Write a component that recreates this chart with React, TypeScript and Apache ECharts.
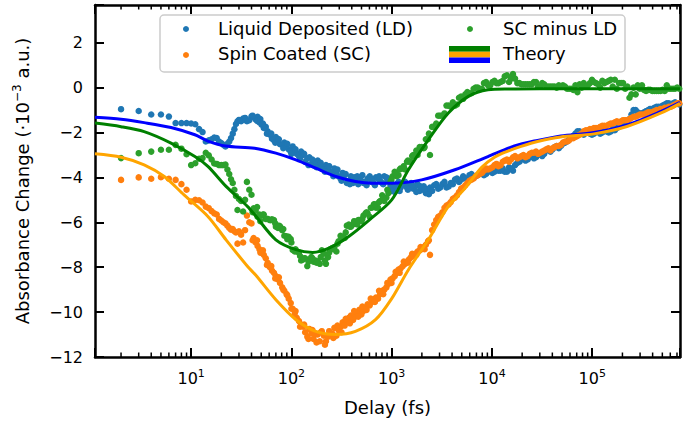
import React, { useEffect, useRef } from "react";
import * as echarts from "echarts";

// Delay grid (fs)
const delays = [
  2, 3, 4, 5, 6, 7, 8, 9, 10, 11, 12, 13, 14, 15, 16, 17, 18, 19, 20, 21, 22, 23, 24, 25, 26, 27, 28, 29, 30,
  33, 36, 40, 44, 48, 53, 58, 64, 70, 77,
  85, 94, 103, 113, 125, 137, 151, 166, 183, 201,
  221, 243, 268, 295, 324, 357, 392, 432, 475, 523,
  575, 633, 696, 766, 843, 927, 1020, 1120, 1230, 1360,
  1490, 1640, 1810, 1990, 2190, 2410, 2650, 2910, 3200, 3520,
  3880, 4270, 4690, 5160, 5680, 6250, 6880, 7560, 8320, 9150,
  10100, 11100, 12200, 13400, 14800, 16200, 17900, 19700, 21600, 23800,
  26200, 28800, 31700, 34800, 38300, 42100, 46400, 51000, 56100, 61700,
  67900, 74700, 82200, 90400, 99400, 109000, 120000, 132000, 146000, 160000,
  176000, 194000, 213000, 235000, 258000, 284000, 313000, 344000, 378000, 416000,
  458000, 503000, 554000, 609000, 670000, 737000,
];

// Liquid Deposited (LD)
const ldValues = [
  -0.96, -1.04, -1.2, -1.2, -1.29, -1.58, -1.58, -1.58, -1.6, -1.63, -1.85, -1.98, -2.4, -2.35, -2.3, -2.22, -2.25, -2.4, -2.47, -2.55, -2.62, -2.5, -2.4, -2.25, -2.05, -1.85, -1.62, -1.5, -1.44,
  -1.38, -1.5, -1.28, -1.42, -1.55, -1.8, -1.95, -2.28, -2.2, -2.52,
  -2.45, -2.75, -2.62, -2.95, -2.85, -3.3, -3.1, -3.45, -3.25, -3.6,
  -3.45, -3.75, -3.6, -3.95, -3.8, -4.25, -3.95, -4.15, -4.0, -4.25,
  -4.05, -4.2, -4.0, -4.15, -3.95, -4.05, -4.55, -4.3, -4.45, -4.2,
  -4.35, -4.5, -4.3, -4.55, -4.7, -4.45, -4.35, -4.5, -4.3, -4.45,
  -4.25, -4.1, -4.2, -3.95, -4.05, -3.85, -3.95, -3.8, -3.9, -3.75,
  -3.8, -3.6, -3.7, -3.75, -3.55, -3.7, -3.35, -3.2, -3.25, -3.1,
  -3.15, -3.0, -3.05, -2.8, -2.85, -2.65, -2.7, -2.5, -2.4, -2.25,
  -2.05, -1.95, -2.1, -2.0, -2.1, -1.95, -2.05, -1.9, -2.0, -1.85,
  -1.8, -1.7, -1.55, -1.4, -1.0, -1.1, -1.15, -1.05, -0.95, -0.9,
  -0.85, -0.8, -0.7, -0.75, -0.65, -0.75,
];

// Spin Coated (SC)
const scValues = [
  -4.11, -4.0, -4.06, -3.99, -4.06, -4.11, -4.3, -4.55, -5.07, -5.0, -5.02, -5.12, -5.3, -5.37, -5.5, -5.6, -5.65, -5.85, -5.92, -6.0, -6.05, -6.15, -6.25, -6.33, -6.3, -6.4, -6.45, -6.95, -6.4,
  -6.9, -5.7, -6.05, -6.9, -7.2, -7.45, -7.8, -8.15, -8.4, -8.7,
  -9.05, -9.4, -9.85, -10.25, -10.55, -10.9, -10.75, -11.2, -11.0, -10.85,
  -11.3, -10.95, -10.7, -10.8, -10.45, -10.4, -10.15, -10.2, -9.9, -9.95,
  -9.65, -9.55, -9.35, -9.2, -9.0, -8.75, -8.5, -8.25, -8.05, -7.85,
  -7.65, -7.5, -7.3, -7.2, -7.0, -7.45, -6.1, -5.75, -5.55, -5.25,
  -5.1, -4.9, -4.65, -4.45, -4.25, -4.1, -3.95, -3.85, -3.7, -3.65,
  -3.55, -3.4, -3.45, -3.25, -3.3, -3.1, -3.15, -3.05, -3.1, -2.95,
  -2.9, -2.95, -2.85, -2.75, -2.8, -2.65, -2.6, -2.45, -2.4, -2.25,
  -2.2, -2.1, -1.95, -1.9, -1.85, -1.8, -1.75, -1.7, -1.65, -1.6,
  -1.5, -1.5, -1.45, -1.4, -1.3, -1.25, -1.2, -1.15, -1.1, -1.05,
  -1.0, -0.95, -0.9, -0.85, -0.75, -0.7,
];

// SC minus LD
const diffValues = [
  -3.14, -2.92, -2.85, -2.77, -2.77, -2.55, -2.72, -2.97, -3.45, -3.37, -3.17, -3.14, -2.9, -3.02, -3.2, -3.38, -3.4, -3.45, -3.45, -3.45, -3.43, -3.65, -3.85, -4.08, -4.25, -4.55, -4.83, -5.45, -4.96,
  -5.52, -4.2, -4.77, -5.48, -5.65, -5.65, -5.85, -5.87, -6.2, -6.18,
  -6.6, -6.65, -7.23, -7.3, -7.7, -7.6, -7.65, -7.75, -7.75, -7.25,
  -7.85, -7.2, -7.1, -6.85, -6.65, -6.15, -6.2, -6.05, -5.9, -5.7,
  -5.6, -5.35, -5.35, -5.05, -5.05, -4.7, -3.95, -3.95, -3.6, -3.65,
  -3.3, -3.0, -3.0, -2.65, -2.3, -3.0, -1.75, -1.25, -1.25, -0.8,
  -0.85, -0.8, -0.45, -0.5, -0.2, -0.25, 0.0, -0.05, 0.2, 0.1,
  0.25, 0.2, 0.25, 0.5, 0.25, 0.6, 0.2, 0.15, 0.15, 0.15,
  0.25, 0.05, 0.2, 0.05, 0.05, 0.05, 0.1, 0.1, -0.05, -0.05,
  0.1, 0.15, 0.2, 0.1, 0.35, 0.2, 0.0, 0.2, 0.3, 0.05,
  -0.05, 0.2, -0.05, -0.45, 0.0, 0.1, 0.1, -0.15, -0.1, -0.15,
  -0.15, -0.1, 0.1, -0.05, -0.05, -0.05,
];

// Interleaved delays (fs) of the dense part
const delaysMid = [
  31.5, 34.5, 38, 42, 46, 50.5, 55.5, 61, 67, 73.5,
  81, 89.5, 98.5, 108, 119, 131, 144, 158, 174, 192,
  211, 232, 255, 281, 309, 340, 374, 412, 453, 499,
  549, 604, 664, 731, 804, 885, 973, 1070, 1170, 1290,
  1420, 1560, 1720, 1900, 2090, 2300, 2530, 2780, 3050, 3360,
  3700, 4070, 4480, 4920, 5420, 5960, 6560, 7210, 7930, 8730,
  9610, 10600, 11600, 12800, 14100, 15500, 17000, 18800, 20600, 22700,
  25000, 27500, 30200, 33200, 36500, 40200, 44200, 48700, 53500, 58800,
  64700, 71200, 78400, 86200, 94800, 104000, 115000, 126000, 139000, 153000,
  168000, 185000, 203000, 224000, 246000, 271000, 298000, 328000, 361000, 397000,
  437000, 480000, 528000, 581000, 640000, 703000,
];

const ldMid = [
  -1.5, -1.35, -1.45, -1.32, -1.3, -1.65, -1.75, -2.1, -2.35, -2.3,
  -2.55, -2.58, -2.85, -2.75, -3.05, -3.0, -3.15, -3.4, -3.3, -3.45,
  -3.65, -3.55, -3.8, -3.75, -4.05, -3.9, -4.15, -4.25, -3.95, -4.15,
  -4.2, -3.95, -4.25, -4.05, -4.25, -4.0, -4.35, -4.65, -4.2, -4.35,
  -4.45, -4.25, -4.4, -4.6, -4.4, -4.55, -4.6, -4.3, -4.45, -4.2,
  -4.4, -4.3, -4.05, -4.1, -4.05, -3.9, -4.0, -3.9, -3.75, -3.85,
  -3.7, -3.75, -3.7, -3.6, -3.75, -3.6, -3.45, -3.3, -3.15, -3.2,
  -3.05, -3.1, -2.95, -2.95, -2.75, -2.75, -2.6, -2.6, -2.45, -2.3,
  -2.15, -1.95, -2.05, -1.95, -2.05, -2.05, -1.95, -2.0, -1.95, -1.95,
  -1.9, -1.75, -1.65, -1.5, -1.2, -1.0, -1.15, -1.1, -1.0, -0.95,
  -0.85, -0.85, -0.75, -0.7, -0.7, -0.7,
];

const scMid = [
  -6.55, -6.35, -6.0, -6.7, -7.05, -7.35, -7.6, -8.0, -8.25, -8.55,
  -8.9, -9.2, -9.6, -10.05, -10.4, -10.65, -11.1, -10.95, -11.0, -11.3,
  -11.05, -11.1, -10.95, -11.05, -10.65, -10.6, -10.25, -10.35, -10.05, -10.1,
  -9.8, -9.7, -9.45, -9.4, -9.05, -8.9, -8.55, -8.4, -8.1, -7.95,
  -7.75, -7.55, -7.4, -7.25, -7.1, -6.85, -6.35, -5.9, -5.7, -5.35,
  -5.2, -4.95, -4.8, -4.5, -4.35, -4.15, -4.05, -3.9, -3.8, -3.6,
  -3.6, -3.45, -3.5, -3.3, -3.2, -3.2, -3.05, -3.1, -3.0, -3.05,
  -2.9, -2.85, -2.9, -2.8, -2.7, -2.7, -2.6, -2.55, -2.4, -2.35,
  -2.25, -2.15, -2.05, -1.9, -1.85, -1.8, -1.8, -1.7, -1.7, -1.6,
  -1.55, -1.55, -1.45, -1.45, -1.35, -1.3, -1.2, -1.2, -1.1, -1.1,
  -1.0, -0.95, -0.9, -0.85, -0.8, -0.7,
];

const diffMid = [
  -5.05, -5.0, -4.55, -5.38, -5.75, -5.7, -5.85, -5.9, -5.9, -6.25,
  -6.35, -6.62, -6.75, -7.3, -7.35, -7.65, -7.95, -7.55, -7.7, -7.85,
  -7.4, -7.55, -7.15, -7.3, -6.6, -6.7, -6.1, -6.1, -6.1, -5.95,
  -5.6, -5.75, -5.2, -5.35, -4.8, -4.9, -4.2, -3.75, -3.9, -3.6,
  -3.3, -3.3, -3.0, -2.65, -2.7, -2.3, -1.75, -1.6, -1.25, -1.15,
  -0.8, -0.65, -0.75, -0.4, -0.3, -0.25, -0.05, 0.0, -0.05, 0.25,
  0.1, 0.3, 0.2, 0.3, 0.55, 0.4, 0.4, 0.2, 0.15, 0.15,
  0.15, 0.25, 0.05, 0.15, 0.05, 0.05, 0.0, 0.05, 0.05, -0.05,
  -0.1, -0.2, 0.0, 0.05, 0.2, 0.25, 0.15, 0.3, 0.25, 0.35,
  0.35, 0.2, 0.2, 0.05, -0.3, -0.3, -0.05, -0.1, -0.1, -0.15,
  -0.15, -0.15, -0.15, -0.05, -0.05, 0.0,
];

// Extra delays (fs) where the data are densest
const delaysExtra = [
  41, 45.5, 49, 52, 57, 63, 69, 75, 83, 91,
  100, 110, 122, 134, 148, 162, 178, 196, 216, 238,
  262, 288, 316, 348, 383, 422, 464, 510, 562, 618,
  680, 748, 823, 905, 995, 1095, 1200, 1320, 1450, 1600,
  1760, 1940, 2130, 2350,
];

const ldExtra = [
  -1.25, -1.48, -1.4, -1.6, -2.05, -2.05, -2.45, -2.3, -2.7, -2.5,
  -2.95, -2.75, -3.15, -2.95, -3.45, -3.2, -3.55, -3.35, -3.75, -3.5,
  -3.95, -3.65, -4.15, -3.85, -4.3, -4.0, -4.3, -3.9, -4.35, -4.05,
  -4.35, -3.95, -4.3, -4.15, -4.6, -4.4, -4.6, -4.25, -4.55, -4.35,
  -4.65, -4.4, -4.55, -4.75,
];

const scExtra = [
  -6.8, -6.8, -7.35, -7.25, -7.9, -7.95, -8.5, -8.45, -9.0, -9.25,
  -9.85, -9.95, -10.65, -10.55, -11.2, -10.8, -11.35, -10.9, -11.45, -10.85,
  -11.15, -10.6, -10.9, -10.3, -10.5, -9.95, -10.2, -9.75, -9.9, -9.4,
  -9.55, -9.05, -9.2, -8.7, -8.7, -8.2, -8.25, -7.75, -7.8, -7.4,
  -7.45, -7.1, -7.2, -6.8,
];

const diffExtra = [
  -5.55, -5.32, -5.95, -5.65, -5.85, -5.9, -6.05, -6.15, -6.3, -6.75,
  -6.9, -7.2, -7.5, -7.6, -7.75, -7.6, -7.8, -7.55, -7.7, -7.35,
  -7.2, -6.95, -6.75, -6.45, -6.2, -5.95, -5.9, -5.85, -5.55, -5.35,
  -5.2, -5.1, -4.9, -4.55, -4.1, -3.8, -3.65, -3.5, -3.25, -3.05,
  -2.8, -2.7, -2.65, -2.05,
];

// Theory curves [delay fs, value]
const theoryLD = [
  [1.1, -1.32], [2, -1.41], [3.4, -1.56], [6.3, -1.78], [10.9, -2.1], [14.7, -2.38], [22, -2.6], [43, -2.7],
  [70, -2.92], [111, -3.22], [175, -3.59], [277, -3.96], [435, -4.18], [636, -4.26], [1000, -4.26],
  [1990, -4.11], [4265, -3.66], [9120, -3.07], [16750, -2.6], [28500, -2.35], [48500, -2.15],
  [104000, -2.0], [222000, -1.66], [480000, -1.07], [750000, -0.66],
];
const theorySC = [
  [1.1, -2.95], [2, -3.1], [3.4, -3.44], [5.4, -3.96], [8.5, -4.78], [14.7, -5.74], [22.3, -6.78],
  [36.6, -7.97], [44, -8.35], [70, -9.45], [111, -10.34], [175, -10.86], [277, -11.0], [435, -10.86],
  [690, -10.34], [1000, -9.4], [1469, -8.11], [2318, -6.78], [3656, -5.3], [5360, -4.5], [7900, -3.55],
  [10600, -3.1], [14000, -2.85], [19500, -2.62], [28500, -2.4], [48500, -2.2], [104000, -2.06], [222000, -1.73],
  [480000, -1.14], [750000, -0.7],
];
const theoryDiff = [
  [1.1, -1.58], [2, -1.74], [3.4, -1.96], [6.3, -2.47], [10.9, -3.07], [14.7, -3.51], [22.3, -4.4],
  [36.6, -5.3], [44, -5.72], [70, -6.78], [111, -7.22], [163, -7.34], [237, -7.15], [373, -6.63],
  [600, -5.89], [1000, -5.0], [1469, -3.66], [2318, -2.33], [3656, -1.14], [5768, -0.4], [9120, -0.1],
  [15000, -0.06], [30000, -0.05], [100000, -0.05], [300000, -0.05], [750000, -0.05],
];

const X_MIN = 1.1;
const X_MAX = 750000;
const Y_MIN = -12;
const Y_MAX = 3.68;
const FONT = "DejaVu Sans";

const minorTickValues: number[] = [];
for (let k = 0; k <= 5; k++) {
  for (let m = 2; m <= 9; m++) {
    const v = m * Math.pow(10, k);
    if (v > X_MIN && v < X_MAX) minorTickValues.push(v);
  }
}

const minus = (s: string) => s.replace(/-/g, "\u2212");

export default function App() {
  const ref = useRef<HTMLDivElement>(null);
  useEffect(() => {
    document.body.style.margin = "0";
    if (!ref.current) return;
    const chart = echarts.init(ref.current, null, { renderer: "svg" });
    const pair = (xs: number[], vals: number[]) => xs.map((d, i) => [d, vals[i]]);
    const scatter = (name: string, vals: number[], mid: number[], extra: number[], color: string) => ({
      name,
      type: "scatter",
      data: pair(delays, vals).concat(pair(delaysMid, mid), pair(delaysExtra, extra)),
      symbolSize: 6.5,
      itemStyle: { color, opacity: 1 },
      xAxisIndex: 0,
      yAxisIndex: 0,
      z: 2,
    });
    const line = (name: string, data: number[][], color: string, z: number) => ({
      name,
      type: "line",
      data,
      smooth: 0.3,
      showSymbol: false,
      symbol: "none",
      lineStyle: { color, width: 3 },
      xAxisIndex: 0,
      yAxisIndex: 0,
      z,
    });
    const tickLine = { lineStyle: { color: "#000", width: 2 } };
    const option: any = {
      animation: false,
      backgroundColor: "#fff",
      grid: { left: 95, right: 0, top: 5, bottom: 64 },
      xAxis: [
        {
          type: "log",
          min: X_MIN,
          max: X_MAX,
          position: "bottom",
          splitLine: { show: false },
          axisLine: { show: true, onZero: false, lineStyle: { color: "#000", width: 2.5 } },
          axisTick: { show: true, inside: true, length: 9, ...tickLine },
          axisLabel: {
            margin: 11,
            color: "#000",
            formatter: (v: number) => {
              const e = Math.round(Math.log10(v));
              if (Math.abs(Math.log10(v) - e) > 1e-6) return "";
              return `{b|10}{s|${e}}`;
            },
            rich: {
              b: { fontSize: 16, fontFamily: FONT, color: "#000", lineHeight: 20 },
              s: { fontSize: 11, fontFamily: FONT, color: "#000", verticalAlign: "top", lineHeight: 12 },
            },
          },
          name: "Delay (fs)",
          nameLocation: "middle",
          nameGap: 41,
          nameTextStyle: { fontSize: 18, fontFamily: FONT, color: "#000" },
        },
        {
          type: "log",
          min: X_MIN,
          max: X_MAX,
          position: "top",
          splitLine: { show: false },
          axisLine: { show: true, onZero: false, lineStyle: { color: "#000", width: 2.5 } },
          axisTick: { show: true, inside: true, length: 9, ...tickLine },
          axisLabel: { show: false },
        },
      ],
      yAxis: [
        {
          type: "value",
          min: Y_MIN,
          max: Y_MAX,
          interval: 2,
          position: "left",
          splitLine: { show: false },
          axisLine: { show: true, onZero: false, lineStyle: { color: "#000", width: 2.5 } },
          axisTick: { show: true, inside: true, length: 9, ...tickLine },
          axisLabel: {
            margin: 12,
            color: "#000",
            fontSize: 16,
            fontFamily: FONT,
            formatter: (v: number) => (Math.abs(v - Math.round(v)) > 1e-6 ? "" : minus(String(Math.round(v)))),
          },
          name: "{n|Absorbance Change (\u00b710}{s|\u22123}{n| a.u.)}",
          nameLocation: "middle",
          nameGap: 62,
          nameTextStyle: {
            rich: {
              n: { fontSize: 18, fontFamily: FONT, color: "#000", lineHeight: 22 },
              s: { fontSize: 12, fontFamily: FONT, color: "#000", verticalAlign: "top", lineHeight: 13 },
            },
          },
        },
        {
          type: "value",
          min: Y_MIN,
          max: Y_MAX,
          interval: 2,
          position: "right",
          splitLine: { show: false },
          axisLine: { show: true, onZero: false, lineStyle: { color: "#000", width: 2.5 } },
          axisTick: { show: true, inside: true, length: 9, ...tickLine },
          axisLabel: { show: false },
        },
      ],
      series: [
        scatter("Liquid Deposited (LD)", ldValues, ldMid, ldExtra, "#1f77b4"),
        scatter("Spin Coated (SC)", scValues, scMid, scExtra, "#ff7f0e"),
        scatter("SC minus LD", diffValues, diffMid, diffExtra, "#2ca02c"),
        line("Theory LD", theoryLD, "#0000ff", 3),
        line("Theory SC", theorySC, "#ffa500", 4),
        line("Theory diff", theoryDiff, "#008000", 5),
        {
          type: "custom",
          name: "minor ticks",
          xAxisIndex: 0,
          yAxisIndex: 0,
          silent: true,
          clip: false,
          z: 10,
          data: minorTickValues.map((v) => [v, 0]),
          renderItem: (_p: any, api: any) => {
            const x = api.value(0);
            const b = api.coord([x, Y_MIN]);
            const t = api.coord([x, Y_MAX]);
            const st = { stroke: "#000", lineWidth: 1.5 };
            return {
              type: "group",
              children: [
                { type: "line", shape: { x1: b[0], y1: b[1], x2: b[0], y2: b[1] - 4.5 }, style: st },
                { type: "line", shape: { x1: t[0], y1: t[1], x2: t[0], y2: t[1] + 4.5 }, style: st },
              ],
            };
          },
        },
      ],
      graphic: [
        {
          type: "group",
          z: 100,
          children: [
            {
              type: "rect",
              shape: { x: 160, y: 15, width: 465, height: 57, r: 4 },
              style: { fill: "rgba(255,255,255,0.8)", stroke: "#cccccc", lineWidth: 1.5 },
            },
            { type: "circle", shape: { cx: 186, cy: 29, r: 3 }, style: { fill: "#1f77b4" } },
            { type: "circle", shape: { cx: 186, cy: 55, r: 3 }, style: { fill: "#ff7f0e" } },
            { type: "circle", shape: { cx: 470, cy: 29, r: 3 }, style: { fill: "#2ca02c" } },
            { type: "rect", shape: { x: 449, y: 46, width: 41, height: 5.7 }, style: { fill: "#008000" } },
            { type: "rect", shape: { x: 449, y: 51.7, width: 41, height: 5.7 }, style: { fill: "#ffa500" } },
            { type: "rect", shape: { x: 449, y: 57.4, width: 41, height: 5.7 }, style: { fill: "#0000ff" } },
            {
              type: "text",
              style: { text: "Liquid Deposited (LD)", x: 218, y: 28, fontSize: 18, fontFamily: FONT, fill: "#000", verticalAlign: "middle", align: "left" },
            },
            {
              type: "text",
              style: { text: "Spin Coated (SC)", x: 218, y: 53.5, fontSize: 18, fontFamily: FONT, fill: "#000", verticalAlign: "middle", align: "left" },
            },
            {
              type: "text",
              style: { text: "SC minus LD", x: 503, y: 28, fontSize: 18, fontFamily: FONT, fill: "#000", verticalAlign: "middle", align: "left" },
            },
            {
              type: "text",
              style: { text: "Theory", x: 503, y: 53.5, fontSize: 18, fontFamily: FONT, fill: "#000", verticalAlign: "middle", align: "left" },
            },
          ],
        },
      ],
    };
    chart.setOption(option);
    return () => chart.dispose();
  }, []);
  return <div ref={ref} style={{ width: 683, height: 421 }} />;
}
